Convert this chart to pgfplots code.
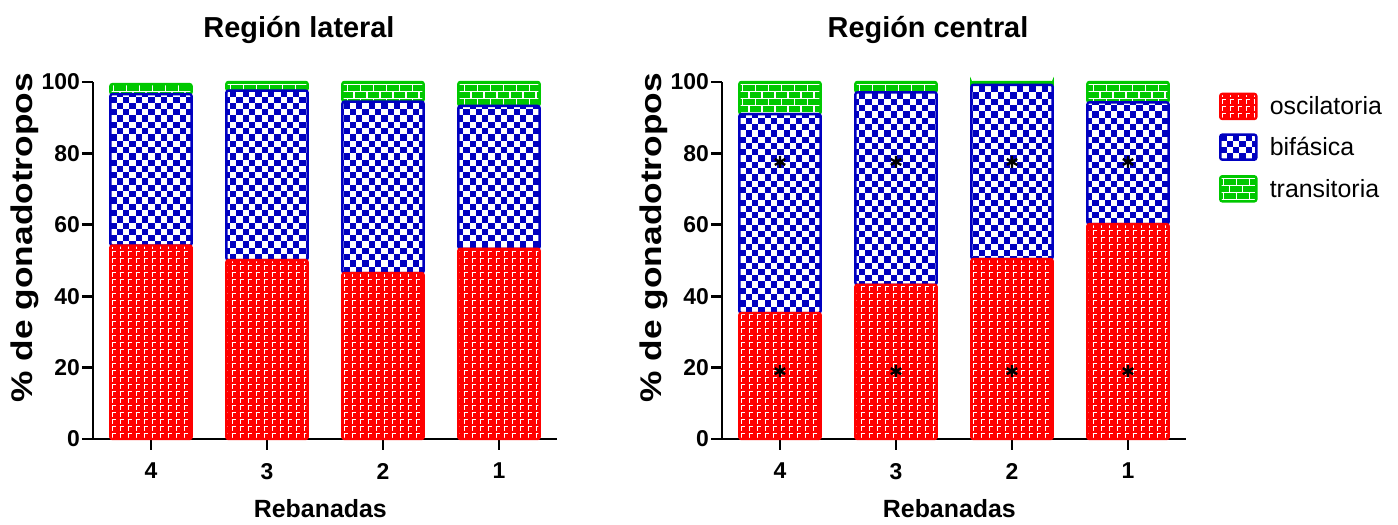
\documentclass[border=0pt]{standalone}
\usepackage{graphicx}
\usepackage{pgfplots}
\usepackage{pgfplotstable}
\pgfplotsset{compat=1.18}
\usepackage{fontspec}
\setmainfont{Liberation Sans}

\definecolor{rred}{RGB}{255,0,0}
\definecolor{bblue}{RGB}{0,0,192}
\definecolor{ggreen}{RGB}{0,200,0}

% texture helpers (basic-layer strokes inside each filled path, clipped to it)
\newcommand\ppbox{%
  \pgfpointanchor{path picture bounding box}{south west}\pgfgetlastxy{\xa}{\ya}%
  \pgfpointanchor{path picture bounding box}{north east}\pgfgetlastxy{\xb}{\yb}%
  \pgfsetstrokecolor{white}\pgfsetbuttcap}
\newcommand\checktex{%
  \ppbox
  \pgfmathsetmacro\nr{int(ceil((\yb-\ya)/3.15bp))}%
  \foreach \r in {0,...,\nr}{%
    \pgfmathsetlengthmacro\yy{\ya+(\r+0.5)*3.15bp}%
    \pgfmathsetlengthmacro\xs{\xa+mod(\r,2)*3.15bp}%
    \pgfsetlinewidth{3.15bp}\pgfsetdash{{3.15bp}{3.15bp}}{0pt}%
    \pgfpathmoveto{\pgfqpoint{\xs}{\yy}}\pgfpathlineto{\pgfqpoint{\xb}{\yy}}%
    \pgfusepath{stroke}%
  }}
\newcommand\gamtex{%
  \ppbox
  \pgfmathsetmacro\nr{int(ceil((\yb-\ya)/3.5bp))}%
  \foreach \r in {0,...,\nr}{%
    \pgfmathsetlengthmacro\yh{\ya+\r*3.5bp+2.725bp}%
    \pgfmathsetlengthmacro\yv{\ya+\r*3.5bp+1.7bp}%
    \pgfmathsetlengthmacro\xs{\xa+0.6bp}%
    \pgfsetlinewidth{0.55bp}\pgfsetdash{{2.2bp}{1.8bp}}{0pt}%
    \pgfpathmoveto{\pgfqpoint{\xs}{\yh}}\pgfpathlineto{\pgfqpoint{\xb}{\yh}}%
    \pgfusepath{stroke}%
    \pgfsetlinewidth{2.6bp}\pgfsetdash{{0.55bp}{3.45bp}}{0pt}%
    \pgfpathmoveto{\pgfqpoint{\xs}{\yv}}\pgfpathlineto{\pgfqpoint{\xb}{\yv}}%
    \pgfusepath{stroke}%
  }}
\newcommand\brktex{%
  \ppbox
  \pgfmathsetmacro\nr{int(ceil((\yb-\ya)/3.5bp))}%
  \foreach \r in {0,...,\nr}{%
    \pgfmathsetlengthmacro\yh{\yb-\r*3.5bp-1.2bp}%
    \pgfmathsetlengthmacro\yv{\yb-\r*3.5bp-2.95bp}%
    \pgfmathsetlengthmacro\xs{\xa+1.2bp+mod(\r,2)*3.25bp}%
    \pgfsetlinewidth{0.6bp}\pgfsetdash{}{0pt}%
    \pgfpathmoveto{\pgfqpoint{\xa}{\yh}}\pgfpathlineto{\pgfqpoint{\xb}{\yh}}%
    \pgfusepath{stroke}%
    \pgfsetlinewidth{3.5bp}\pgfsetdash{{0.6bp}{5.9bp}}{0pt}%
    \pgfpathmoveto{\pgfqpoint{\xs}{\yv}}\pgfpathlineto{\pgfqpoint{\xb}{\yv}}%
    \pgfusepath{stroke}%
  }}

\pgfplotstableread{
x osc bif tra
0 54.2 42.4 2.8
1 50.1 47.5 2.4
2 46.5 48.0 5.5
3 53.3 40.0 6.7
}\lateral

\pgfplotstableread{
x osc bif tra
0 35.3 55.7 9.0
1 43.2 53.9 2.9
2 50.4 48.8 0.8
3 60.2 34.1 5.7
}\central

\pgfplotstableread{
x y
0 77.6
1 77.6
2 77.6
3 77.6
0 19.0
1 19.0
2 19.0
3 19.0
}\stars

\pgfplotsset{
  oscst/.style={fill=rred, draw=rred, line width=1.2bp, rounded corners=1bp, path picture={\gamtex}},
  bifst/.style={fill=bblue, draw=bblue, line width=1.2bp, rounded corners=1bp, path picture={\checktex}},
  trast/.style={fill=ggreen, draw=ggreen, line width=1.2bp, rounded corners=1bp, path picture={\brktex}},
  mybase/.style={scale only axis, width=232bp, height=178.5bp,
    xmin=-0.5, xmax=3.5, ymin=0, ymax=100, clip=false},
  mypanel/.style={mybase, ybar stacked, bar width=0.7,
    axis x line*=bottom, axis y line*=left,
    axis line style={line width=1.4bp, black},
    tick align=outside, major tick length=5.5bp,
    every tick/.style={black, line width=1.4bp},
    xtick={0,1,2,3}, xticklabels={4,3,2,1},
    ytick={0,20,40,60,80,100},
    /pgf/number format/assume math mode=true,
    ticklabel style={font=\fontsize{11.5}{12}\selectfont\bfseries},
    yticklabel style={xshift=2.5bp},
    xticklabel style={yshift=-3bp},
    title style={at={(axis description cs:0.444,1)}, anchor=base, yshift=16.5bp, font=\fontsize{14.5}{16}\selectfont\bfseries},
    xlabel style={at={(axis description cs:0.49,0)}, anchor=base, yshift=-39.5bp, font=\fontsize{12.5}{14}\selectfont\bfseries},
    ylabel style={at={(axis description cs:-0.131,0.564)}, anchor=base, font=\fontsize{15}{16}\selectfont\bfseries},
    xlabel={Rebanadas},
    ylabel={\scalebox{1.18}[1]{\% de gonadotropos}},
  },
}

\begin{document}
\begin{tikzpicture}
\path (0,0) rectangle (699bp,261bp);
\begin{axis}[mypanel, at={(46.5bp,41.5bp)}, anchor=south west, title={Región lateral}]
\addplot[oscst] table[x=x,y=osc] {\lateral};
\addplot[bifst] table[x=x,y=bif] {\lateral};
\addplot[trast] table[x=x,y=tra] {\lateral};
\end{axis}

\begin{axis}[mypanel, at={(361bp,41.5bp)}, anchor=south west, title={Región central},
  legend image code/.code={\path[#1, rounded corners=1bp] (0bp,-5.75bp) rectangle (18bp,6.75bp);},
  legend style={at={(axis description cs:1.0655,0.975)}, anchor=north west, draw=none, fill=none,
    inner sep=0pt, row sep=5bp, nodes={inner sep=0pt}, font=\fontsize{12.5}{15}\selectfont,
    /tikz/every odd column/.append style={column sep=5bp}},
  legend cell align=left]
\addplot[oscst] table[x=x,y=osc] {\central};
\addplot[bifst] table[x=x,y=bif] {\central};
\addplot[trast] table[x=x,y=tra] {\central};
\legend{oscilatoria, bifásica, transitoria}
\end{axis}

\begin{axis}[mybase, at={(361bp,41.5bp)}, anchor=south west, hide axis]
\addplot[only marks, mark=asterisk, mark size=3bp, black, line width=1.2bp] table[x=x,y=y] {\stars};
\end{axis}
\end{tikzpicture}
\end{document}
